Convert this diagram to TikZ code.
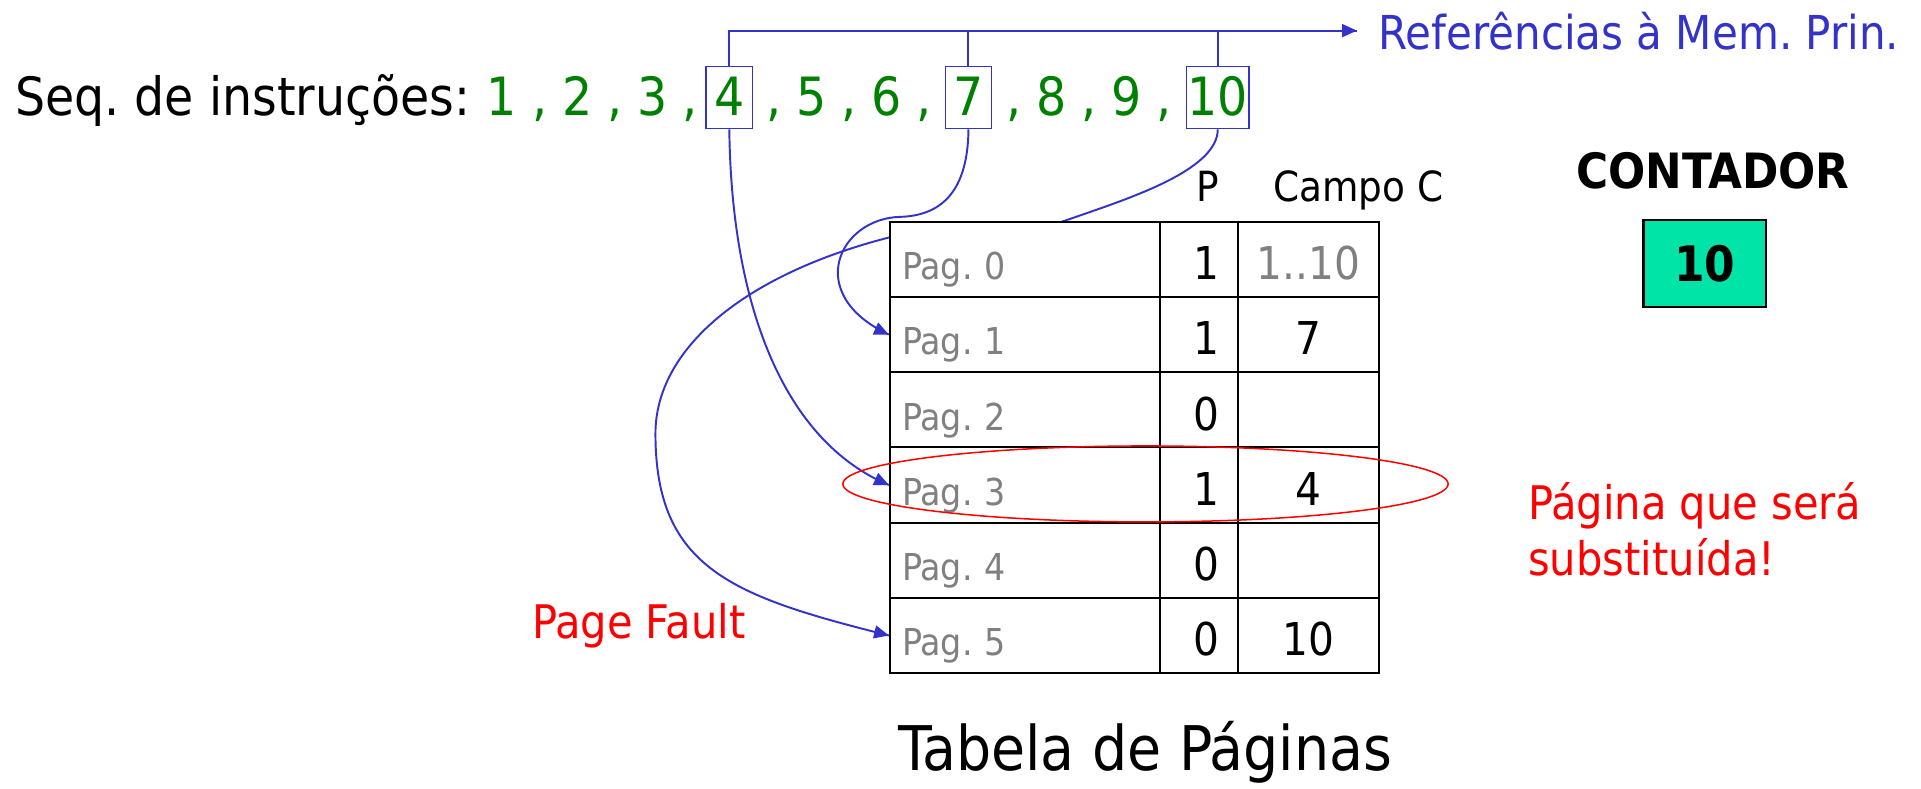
\documentclass[tikz,border=0pt]{standalone}
\usepackage{fontspec}
\setmainfont{DejaVu Sans Condensed}
\usetikzlibrary{backgrounds}
\definecolor{refblue}{RGB}{51,51,204}
\definecolor{seqgreen}{RGB}{0,128,0}
\definecolor{paggray}{RGB}{128,128,128}
\definecolor{cntgreen}{RGB}{0,228,168}
\frenchspacing

\begin{document}
\begin{tikzpicture}[scale=0.2]
\tikzstyle{every node}+=[inner sep=0pt]
\tikzstyle{bigtxt}=[font=\fontsize{24.5}{29}\selectfont]
\tikzstyle{redtxt}=[text=red, font=\fontsize{21.5}{26}\selectfont, anchor=base west]
\tikzstyle{numbox}=[bigtxt, text=seqgreen, draw=refblue, line width=0.6pt, minimum width=0.76cm, minimum height=1.02cm, inner xsep=0.5pt, text height=0.58cm, text depth=0pt, anchor=base]
\tikzstyle{pagcell}=[draw, fill=white, line width=0.9pt, anchor=north west, minimum height=1.228cm, text height=0.66cm, text depth=0pt]
\tikzstyle{pagname}=[pagcell, text=paggray, font=\fontsize{17.2}{20}\selectfont, minimum width=4.42cm, text width=4.02cm, inner xsep=0.2cm, align=left]
\tikzstyle{pbit}=[pagcell, font=\fontsize{21}{25}\selectfont, minimum width=1.26cm, text width=0.66cm, inner xsep=0.3cm, align=right]
\tikzstyle{cfield}=[pagcell, font=\fontsize{21}{25}\selectfont, minimum width=2.31cm, text width=2.11cm, inner xsep=0.1cm, align=center]
\tikzstyle{refline}=[refblue, line width=0.9pt]
\useasboundingbox (0,0) rectangle (156.8,-64.4);
\node [bigtxt, anchor=base west] (seqlbl) at (1.2,-9.4) {Seq. de instruções:};
\node [bigtxt, text=seqgreen, anchor=base] (grpa) at (48.35,-9.4) {1 , 2 , 3 ,};
\node [numbox] (n4) at (59.53,-9.4) {4};
\node [bigtxt, text=seqgreen, anchor=base] (grpb) at (69.3,-9.4) {, 5 , 6 ,};
\node [numbox] (n7) at (79.05,-9.4) {7};
\node [bigtxt, text=seqgreen, anchor=base] (grpc) at (88.9,-9.4) {, 8 , 9 ,};
\node [numbox] (n10) at (99.4,-9.4) {10};
\coordinate (reftip) at (110.75,-2.5);
\node [text=refblue, font=\fontsize{21.7}{26}\selectfont, anchor=base west] (refmem) at (112.5,-4.08) {Referências à Mem. Prin.};
\draw [refline] (n4.north) |- (reftip);
\draw [refline] (n7.north) -- (n7.north |- reftip);
\draw [refline] (n10.north) -- (n10.north |- reftip);
\fill [refblue] (reftip) -- ++(-1.2,0.55) -- ++(0,-1.1) -- cycle;
\node [font=\bfseries\fontsize{22.6}{27}\selectfont, anchor=base] (cntlbl) at (139.8,-15.4) {CONTADOR};
\node [draw, line width=1.2pt, fill=cntgreen, minimum width=2cm, minimum height=1.42cm, font=\bfseries\fontsize{22.7}{27}\selectfont] (cnt) at (139.15,-21.5) {10};
\node [font=\fontsize{19.3}{23}\selectfont, anchor=base] (hdrp) at (98.58,-16.46) {P};
\node [font=\fontsize{19.3}{23}\selectfont, anchor=base west] (hdrc) at (103.9,-16.46) {Campo C};
\node [pagname] (pag0) at (72.55,-18.02) {Pag. 0};
\node [pbit] (p0) at (94.64,-18.02) {1};
\node [cfield, text=paggray] (c0) at (100.94,-18.02) {1..10};
\node [pagname] (pag1) at (72.55,-24.16) {Pag. 1};
\node [pbit] (p1) at (94.64,-24.16) {1};
\node [cfield] (c1) at (100.94,-24.16) {7};
\node [pagname] (pag2) at (72.55,-30.30) {Pag. 2};
\node [pbit] (p2) at (94.64,-30.30) {0};
\node [cfield] (c2) at (100.94,-30.30) {};
\node [pagname] (pag3) at (72.55,-36.44) {Pag. 3};
\node [pbit] (p3) at (94.64,-36.44) {1};
\node [cfield] (c3) at (100.94,-36.44) {4};
\node [pagname] (pag4) at (72.55,-42.58) {Pag. 4};
\node [pbit] (p4) at (94.64,-42.58) {0};
\node [cfield] (c4) at (100.94,-42.58) {};
\node [pagname] (pag5) at (72.55,-48.72) {Pag. 5};
\node [pbit] (p5) at (94.64,-48.72) {0};
\node [cfield] (c5) at (100.94,-48.72) {10};
\begin{scope}[on background layer]
\fill [white] (0,0) rectangle (156.8,-64.4);
\draw [refline] (n10.south) .. controls (99.4,-14.0) and (91.66,-16.35) .. (86.96,-18.0) .. controls (82.26,-19.65) and (77.16,-18.2) .. (72.5,-19.4) .. controls (60.86,-22.4) and (53.5,-28.4) .. (53.5,-35.4) .. controls (53.5,-46.4) and (59.79,-48.68) .. (pag5.west);
\end{scope}
\fill [refblue] (pag5.west) -- ++(-1.032,0.8215) -- ++(-0.264,-1.067) -- cycle;
\draw [refline] (n4.south) .. controls (59.7,-25) and (64,-36) .. (pag3.west);
\fill [refblue] (pag3.west) -- ++(-0.867,0.993) -- ++(-0.451,-1.002) -- cycle;
\draw [refline] (n7.south) .. controls (79.0,-16.0) and (76.5,-17.6) .. (73.5,-17.7) .. controls (68.5,-17.8) and (65.5,-24.0) .. (pag1.west);
\fill [refblue] (pag1.west) -- ++(-0.867,0.993) -- ++(-0.451,-1.002) -- cycle;
\draw [red, line width=0.7pt] (93.5,-39.5) ellipse (24.7 and 3.1);
\node [redtxt] (pgfault) at (43.4,-52.1) {Page Fault};
\node [redtxt] (subst1) at (124.7,-42.4) {Página que será};
\node [redtxt] (subst2) at (124.7,-47.0) {substituída!};
\node [font=\fontsize{28.6}{34}\selectfont, anchor=base] (tabtitle) at (93.5,-62.9) {Tabela de Páginas};
\end{tikzpicture}
\end{document}
